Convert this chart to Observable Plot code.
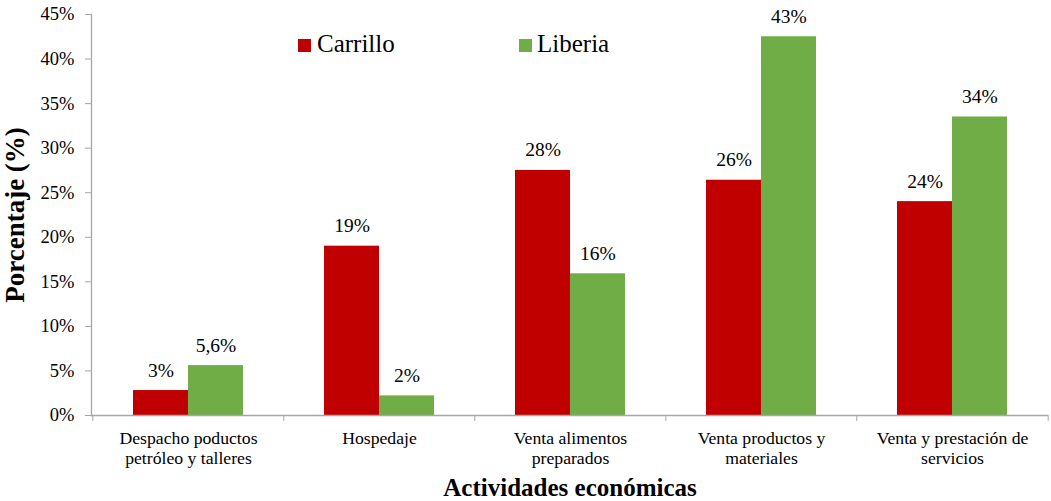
<!DOCTYPE html>
<html>
<head>
<meta charset="utf-8">
<script src="https://cdn.jsdelivr.net/npm/d3@7"></script>
<script src="https://cdn.jsdelivr.net/npm/@observablehq/plot@0.6"></script>
<style>
  body { margin: 0; background: #fff; }
  #wrap { position: relative; width: 1051px; height: 501px; font-family: "Liberation Serif", "Times New Roman", serif; }
  .leg { position: absolute; font-size: 25px; line-height: 25px; color: #000; white-space: nowrap; }
  .sw { position: absolute; width: 13px; height: 13px; }
  svg text { font-family: "Liberation Serif", "Times New Roman", serif; }
</style>
</head>
<body>
<div id="wrap">
  <div id="chart"></div>
  <div class="sw" style="left:298px;top:39px;background:#C00000"></div>
  <div class="leg" style="left:317px;top:31px">Carrillo</div>
  <div class="sw" style="left:519px;top:39px;background:#70AD47"></div>
  <div class="leg" style="left:537px;top:31px">Liberia</div>
</div>
<script>
const categories = [
  "Despacho poductos\npetróleo y talleres",
  "Hospedaje",
  "Venta alimentos\npreparados",
  "Venta productos y\nmateriales",
  "Venta y prestación de\nservicios"
];
const series = ["Carrillo", "Liberia"];
const carrilloValues = [2.8, 19.0, 27.5, 26.4, 24.0];
const liberiaValues = [5.6, 2.2, 15.9, 42.5, 33.5];
const carrilloLabels = ["3%", "19%", "28%", "26%", "24%"];
const liberiaLabels = ["5,6%", "2%", "16%", "43%", "34%"];
const yTicks = [0, 5, 10, 15, 20, 25, 30, 35, 40, 45];
const colors = {Carrillo: "#C00000", Liberia: "#70AD47"};

const carrillo = categories.map((c, i) => ({cat: c, value: carrilloValues[i], label: carrilloLabels[i]}));
const liberia = categories.map((c, i) => ({cat: c, value: liberiaValues[i], label: liberiaLabels[i]}));

const W = 1051, H = 501, ml = 91, mr = 3, mt = 14, mb = 86;
const pInner = 0.4256, pOuter = pInner / 2;
const step = (W - ml - mr) / categories.length;
const bw = step * (1 - pInner);
const half = bw / 2;
const gray = "#a6a6a6";
const font = "'Liberation Serif', 'Times New Roman', serif";

const chart = Plot.plot({
  width: W, height: H,
  marginLeft: ml, marginRight: mr, marginTop: mt, marginBottom: mb,
  style: {fontFamily: font, color: "#000", background: "#fff"},
  x: {domain: categories, paddingInner: pInner, paddingOuter: pOuter, label: null},
  y: {domain: [0, 45], label: null},
  marks: [
    Plot.barY(carrillo, {x: "cat", y: "value", fill: colors.Carrillo, insetRight: half}),
    Plot.barY(liberia, {x: "cat", y: "value", fill: colors.Liberia, insetLeft: half}),
    Plot.text(carrillo, {x: "cat", y: "value", text: "label", dx: -half / 2, dy: -14, lineAnchor: "bottom", fontSize: 19.5, fontFamily: font, fill: "#000"}),
    Plot.text(liberia, {x: "cat", y: "value", text: "label", dx: half / 2, dy: -14, lineAnchor: "bottom", fontSize: 19.5, fontFamily: font, fill: "#000"}),
    Plot.ruleY([0], {stroke: gray, strokeWidth: 1.3}),
    Plot.frame({anchor: "left", stroke: gray, strokeWidth: 1.3}),
    Plot.axisY({ticks: yTicks, tickFormat: d => d + "%", tickSize: 6, tickPadding: 11, fontSize: 18.5, fontFamily: font, stroke: gray, fill: "#000"}),
    Plot.axisX({tickSize: 6, text: null, dx: -step / 2, stroke: gray}),
    Plot.axisX({ticks: [categories[categories.length - 1]], tickSize: 6, text: null, dx: step / 2, stroke: gray}),
    Plot.axisX({tickSize: 0, tickPadding: 15, fontSize: 17.7, fontFamily: font, lineHeight: 1.1, fill: "#000", label: null}),
    Plot.text(["Actividades económicas"], {frameAnchor: "bottom", dy: 80, lineAnchor: "bottom", fontSize: 25, fontWeight: "bold", fontFamily: font, fill: "#000"}),
    Plot.text(["Porcentaje (%)"], {frameAnchor: "left", textAnchor: "middle", rotate: -90, dx: -76, fontSize: 27, fontWeight: "bold", fontFamily: font, fill: "#000"})
  ]
});
document.getElementById("chart").appendChild(chart);
</script>
</body>
</html>
